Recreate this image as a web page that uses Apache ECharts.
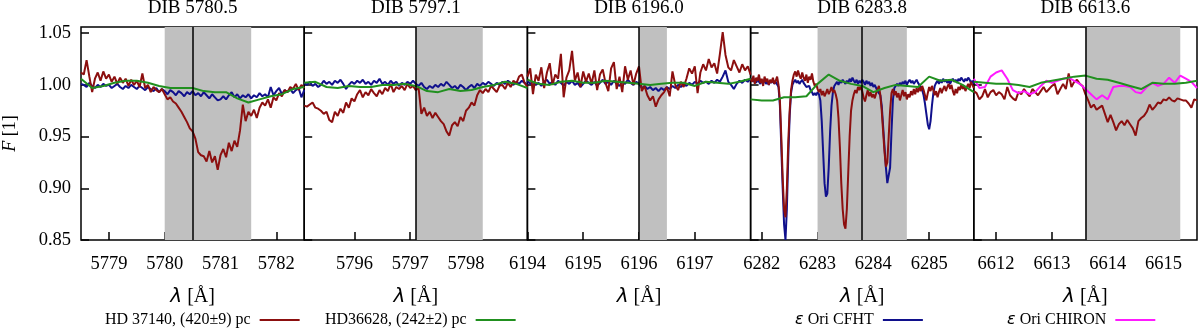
<!DOCTYPE html>
<html>
<head>
<meta charset="utf-8">
<script src="https://cdn.jsdelivr.net/npm/echarts@6.0.0/dist/echarts.min.js"></script>
<style>
html,body{margin:0;padding:0;background:#fff;}
#chart{width:1200px;height:329px;}
</style>
</head>
<body>
<div id="chart"></div>
<script>
// ---------- panel definitions ----------
const panelTitles = ['DIB 5780.5', 'DIB 5797.1', 'DIB 6196.0', 'DIB 6283.8', 'DIB 6613.6'];
const dibCenters = [5780.5, 5797.1, 6196.0, 6283.8, 6613.6];
const xTickLabels = [
  [5779, 5780, 5781, 5782],
  [5796, 5797, 5798],
  [6194, 6195, 6196, 6197],
  [6282, 6283, 6284, 6285],
  [6612, 6613, 6614, 6615]
];
const shadeBands = [
  [5780.0, 5781.55],
  [5797.1, 5798.3],
  [6196.0, 6196.5],
  [6283.0, 6284.6],
  [6613.6, 6615.3]
];
const yTickLabels = [0.85, 0.90, 0.95, 1.00, 1.05];
const seriesNames = ['HD 37140, (420±9) pc', 'HD36628, (242±2) pc', 'ε Ori CFHT', 'ε Ori CHIRON'];

// ---------- HD 37140 (dark red) ----------
const red5780 = [
1.012,1.010,1.024,1.008,0.993,1.006,1.012,1.004,1.013,1.006,
1.010,1.003,1.008,1.001,1.007,1.002,1.006,0.999,1.005,1.000,
1.004,0.998,1.011,0.997,1.000,0.993,0.998,0.995,0.993,0.996,
0.991,0.986,0.988,0.984,0.982,0.978,0.974,0.969,0.964,0.958,
0.955,0.948,0.935,0.932,0.931,0.926,0.936,0.925,0.931,0.918,
0.932,0.938,0.930,0.944,0.936,0.946,0.940,0.956,0.981,0.965,
0.974,0.970,0.976,0.968,0.978,0.983,0.980,0.986,0.978,0.988,
0.985,0.992,0.989,0.995,0.993,0.998,0.996,1.001,0.995,1.000,
0.997];
const red5797 = [
0.980,0.979,0.981,0.983,0.978,0.977,0.975,0.972,0.974,0.966,
0.964,0.974,0.970,0.977,0.973,0.983,0.978,0.987,0.984,0.991,
0.995,0.988,0.993,0.990,0.996,0.992,0.989,0.995,0.991,0.997,
0.994,1.001,0.993,0.998,0.996,0.999,0.995,1.001,0.997,0.999,
0.995,0.997,0.972,0.978,0.970,0.974,0.968,0.973,0.969,0.965,
0.962,0.955,0.951,0.961,0.964,0.960,0.969,0.965,0.975,0.978,
0.983,0.980,0.990,0.995,0.992,0.996,0.993,0.999,0.996,0.993,
0.999,1.000,0.996,1.002,0.998,1.004,1.001,1.008,1.010,1.002,
0.998];
const red6196 = [
1.008,1.016,0.991,1.010,1.004,1.017,0.997,1.012,1.021,1.000,
1.010,1.006,1.030,0.988,1.007,1.014,1.033,1.004,1.012,0.998,
1.013,1.003,1.011,1.001,1.014,0.995,1.010,1.015,1.002,0.994,
1.016,1.022,0.996,1.008,0.993,1.018,1.005,1.014,1.000,1.011,
1.018,0.994,0.999,0.990,0.985,0.989,0.979,0.986,0.990,0.993,
0.998,0.989,1.013,1.000,0.995,1.003,0.998,1.006,1.016,1.011,
1.018,0.992,1.012,1.020,1.014,1.025,1.017,1.021,1.011,1.030,
1.051,1.029,1.017,1.014,1.024,1.018,1.012,1.020,1.014,1.018,
1.010];
const red6284 = [
1.006,1.003,1.009,1.001,1.007,1.004,1.010,1.002,1.006,0.999,
1.008,1.003,1.006,1.000,1.005,1.002,1.007,1.001,1.004,1.008,
1.000,0.985,0.950,0.910,0.880,0.872,0.900,0.945,0.975,0.995,
1.004,1.010,1.013,1.008,1.014,1.009,1.006,1.012,1.007,1.004,
1.010,1.002,1.008,1.005,1.011,1.003,0.999,1.001,0.996,0.993,
0.996,0.990,0.994,0.989,0.992,0.996,0.991,0.994,0.998,0.993,
0.995,0.991,0.985,0.968,0.940,0.905,0.880,0.865,0.861,0.880,
0.915,0.950,0.975,0.985,0.991,0.995,0.992,0.998,0.995,0.999,
0.994,0.988,0.984,0.990,0.995,0.989,0.993,0.988,0.991,0.987,
0.992,0.996,0.999,0.990,0.975,0.955,0.935,0.921,0.925,0.950,
0.975,0.992,0.996,0.990,0.994,0.988,0.992,0.985,0.990,0.995,
0.989,0.993,0.986,0.991,0.988,0.994,0.990,0.996,0.991,0.997,
0.993,0.998,0.994,0.999,0.995,0.990,0.985,0.992,0.998,0.994,
0.999,0.995,0.990,0.994,0.988,0.993,0.997,0.992,0.996,0.999,
0.994,0.998,1.001,0.996,1.000,0.994,0.990,0.996,0.992,0.998,
0.995,1.000,0.996,0.999,0.994,0.998,1.001,0.997,1.003,1.000,
0.997];
const red6614 = [
0.994,0.992,0.986,0.989,0.996,0.988,0.993,0.995,0.990,0.993,
0.991,0.986,0.998,0.990,0.987,0.985,0.993,0.991,0.996,0.992,
0.989,0.996,0.993,0.990,0.994,0.998,0.993,0.996,0.999,1.001,
0.991,0.996,1.001,0.996,1.011,0.998,1.003,1.005,1.001,0.999,
0.991,0.985,0.978,0.981,0.976,0.978,0.980,0.972,0.964,0.971,
0.964,0.956,0.962,0.965,0.961,0.966,0.962,0.958,0.951,0.965,
0.968,0.970,0.974,0.981,0.976,0.979,0.983,0.982,0.986,0.985,
0.988,0.985,0.984,0.987,0.986,0.985,0.985,0.982,0.978,0.986,
0.985];
const redStep = [0.05, 0.05, 0.05, 0.025, 0.05];

// ---------- HD36628 (green) ----------
const green5780 = [1.006,0.997,0.999,1.002,1.004,1.004,1.002,0.999,0.997,0.997,0.997,0.994,0.993,0.993,0.987,0.983,0.986,0.989,0.991,0.996,0.998];
const green5797 = [1.002,1.003,0.998,0.997,0.999,0.998,0.998,1.000,1.000,1.001,0.999,0.994,0.993,0.996,0.994,0.995,0.998,1.000,1.003,1.001,0.997];
const green6196 = [1.005,1.001,1.000,1.003,1.004,1.002,1.002,1.004,1.003,1.002,1.001,1.000,1.001,1.002,1.002,0.999,1.003,1.002,1.001,1.003,1.006];
const green6284 = [0.986,0.985,0.985,0.988,0.988,0.989,1.001,1.010,1.004,1.001,0.999,0.993,0.997,1.000,0.999,0.998,1.008,1.004,1.005,1.000,0.993];
const green6614 = [1.003,1.002,1.001,1.001,1.000,0.998,1.002,1.004,1.006,1.008,1.009,1.006,1.005,1.002,0.999,0.996,1.002,1.001,1.001,1.002,1.004];
const greenStep = 0.2;

// ---------- eps Ori CFHT (dark blue) ----------
const blue5780 = [
1.001,1.000,0.998,1.002,0.999,0.997,1.000,0.998,1.001,0.999,
1.000,0.997,0.999,1.001,0.998,0.996,0.999,0.997,1.000,0.998,
0.996,0.999,0.997,0.995,0.998,0.996,0.994,0.997,0.993,0.996,
0.994,0.991,0.995,0.993,0.990,0.994,0.992,0.989,0.993,0.991,
0.994,0.990,0.992,0.989,0.993,0.990,0.987,0.991,0.988,0.985,
0.986,0.989,0.986,0.990,0.993,0.988,0.991,0.987,0.990,0.988,
0.991,0.987,0.990,0.988,0.992,0.989,0.991,0.988,0.998,0.990,
0.994,0.997,0.991,0.995,0.993,0.996,0.992,0.995,0.997,0.988,
0.995];
const blue5797 = [
1.002,1.000,1.003,0.999,1.001,0.998,1.000,1.004,1.001,1.003,
1.000,1.004,1.002,1.005,1.001,0.996,1.000,1.003,1.001,1.004,
1.002,1.005,1.001,1.003,1.000,1.004,1.002,1.006,1.001,1.003,
1.000,1.004,1.001,1.003,0.999,1.002,1.000,1.003,1.001,1.004,
1.001,0.999,1.002,0.998,0.996,0.999,0.997,1.000,0.998,1.001,
0.999,1.003,1.000,0.997,0.999,0.996,1.000,0.998,0.995,0.998,
1.000,0.997,1.001,0.999,1.002,1.000,1.003,1.001,0.999,1.002,
1.000,1.003,1.001,1.004,1.002,1.000,1.003,1.001,1.004,1.002,
1.000];
const blue6196 = [
1.004,1.001,1.003,1.000,1.002,0.999,1.003,1.005,1.001,1.003,
1.000,1.004,1.002,0.999,1.003,1.001,1.004,1.000,1.002,0.998,
1.001,1.004,1.002,1.000,1.003,0.999,1.002,1.005,1.001,1.003,
1.000,1.004,1.001,0.999,1.003,1.001,1.005,1.002,1.000,1.003,
1.001,0.997,0.999,0.996,0.998,0.995,0.997,0.994,0.997,0.995,
0.998,0.996,0.999,0.997,1.000,0.998,1.001,0.999,1.002,1.000,
1.003,1.001,1.004,1.002,1.003,1.001,1.004,1.002,1.005,1.003,
1.008,1.014,1.003,1.000,0.996,1.001,1.004,1.002,1.005,1.003,
1.006];
const blue6284 = [
1.004,1.006,1.003,1.005,1.002,1.006,1.003,1.001,1.004,1.002,
1.005,1.001,1.003,1.000,1.004,1.002,1.005,1.001,1.003,1.002,
0.998,0.980,0.940,0.900,0.865,0.850,0.880,0.930,0.970,0.992,
1.000,1.003,1.005,1.002,1.004,1.001,1.003,1.005,1.002,1.000,
0.998,0.997,0.999,0.995,0.993,0.990,0.992,0.990,0.993,0.991,
0.985,0.965,0.935,0.905,0.892,0.895,0.920,0.955,0.980,0.993,
0.999,1.001,1.003,1.000,1.004,1.002,1.005,1.003,1.001,1.004,
1.002,1.006,1.003,1.007,1.004,1.002,1.005,1.001,1.004,1.002,
1.005,1.003,1.000,1.004,1.001,1.003,0.999,1.002,0.998,1.000,
0.997,0.994,0.995,0.990,0.980,0.960,0.940,0.920,0.905,0.904,
0.920,0.955,0.985,0.997,0.999,1.001,0.999,1.002,1.000,1.003,
1.001,1.004,1.000,1.003,1.005,1.002,1.004,1.001,1.003,1.005,
1.002,1.000,0.998,0.995,0.990,0.982,0.972,0.962,0.957,0.965,
0.980,0.992,0.999,1.002,1.004,1.001,1.005,1.002,1.006,1.003,
1.005,1.002,1.004,1.001,1.004,1.006,1.003,1.005,1.002,1.006,
1.004,1.007,1.005,1.003,1.006,1.004,1.007,1.005,1.002,1.004,
1.001];
const blueStep = [0.05, 0.05, 0.05, 0.025];

// ---------- eps Ori CHIRON (magenta) ----------
const magenta6614 = [
1.006,0.997,0.998,1.008,1.012,1.014,1.006,0.995,0.992,0.994,
0.991,0.993,0.999,1.004,1.002,1.004,1.006,1.007,1.004,1.001,
0.996,0.991,0.986,0.990,0.986,0.998,0.999,0.999,0.998,0.993,
0.992,0.998,1.002,0.999,1.001,1.007,1.002,1.009,1.006,1.003,
0.997];
const magentaStep = 0.1;

// ---------- build ----------
const redData = [red5780, red5797, red6196, red6284, red6614];
const greenData = [green5780, green5797, green6196, green6284, green6614];
const blueData = [blue5780, blue5797, blue6196, blue6284];

const colors = ['#8c0f0f', '#21901f', '#10108c', '#ff1aff'];
const FONT = 'Liberation Serif';
const L0 = 81, PW = 1116 / 5, TOP = 27, H = 213;
const LW = 2;

function toPairs(vals, start, step) {
  return vals.map((v, i) => [Math.round((start + i * step) * 10000) / 10000, v]);
}

const grid = [], xAxis = [], yAxis = [], series = [], title = [];
dibCenters.forEach((c, p) => {
  grid.push({left: L0 + p * PW, top: TOP, width: PW, height: H, show: true,
    borderColor: '#000', borderWidth: 1.5, backgroundColor: 'transparent', containLabel: false});
  xAxis.push({
    gridIndex: p, type: 'value', min: c - 2, max: c + 2,
    axisLine: {show: false}, splitLine: {show: false},
    axisTick: {show: true, inside: true, length: 8, customValues: xTickLabels[p], lineStyle: {color: '#000', width: 1.5}},
    axisLabel: {show: true, customValues: xTickLabels[p], margin: 15, color: '#000', fontFamily: FONT, fontSize: 18.5,
      formatter: v => String(Math.round(v))},
    name: '{l|λ} [Å]', nameLocation: 'middle', nameGap: 47,
    nameTextStyle: {color: '#000', fontFamily: FONT, fontSize: 20,
      rich: {l: {fontFamily: 'DejaVu Sans', fontStyle: 'italic', fontSize: 20, color: '#000'}}}
  });
  yAxis.push({
    gridIndex: p, type: 'value', min: 0.85, max: 1.056,
    axisLine: {show: false}, splitLine: {show: false},
    axisTick: {show: true, inside: true, length: 8, customValues: yTickLabels, lineStyle: {color: '#000', width: 1.5}},
    axisLabel: {show: p === 0, customValues: yTickLabels, margin: 10, color: '#000', fontFamily: FONT, fontSize: 18.5,
      formatter: v => v.toFixed(2)},
    name: p === 0 ? '{i|F} [1]' : '', nameLocation: 'middle', nameGap: 62,
    nameTextStyle: {color: '#000', fontFamily: FONT, fontSize: 18,
      rich: {i: {fontFamily: FONT, fontStyle: 'italic', fontSize: 18, color: '#000'}}}
  });
  title.push({text: panelTitles[p], left: L0 + p * PW + PW / 2, top: -1, padding: 0, textAlign: 'center',
    textStyle: {fontFamily: FONT, fontSize: 19, fontWeight: 'normal', color: '#000'}});

  // shaded DIB band + vertical center line
  series.push({
    type: 'line', xAxisIndex: p, yAxisIndex: p, data: [], silent: true, z: 1,
    markArea: {silent: true, itemStyle: {color: '#c0c0c0', opacity: 1}, label: {show: false},
      data: [[{xAxis: shadeBands[p][0]}, {xAxis: shadeBands[p][1]}]]},
    markLine: {silent: true, symbol: ['none', 'none'], label: {show: false}, animation: false,
      lineStyle: {color: '#000', width: 1.5, type: 'solid'}, data: [{xAxis: c}]}
  });
  const start = c - 2;
  const common = {type: 'line', xAxisIndex: p, yAxisIndex: p, symbol: 'none', showSymbol: false,
    sampling: null, clip: true, silent: true};
  if (p < 4) {
    series.push(Object.assign({}, common, {name: seriesNames[2], z: 2,
      data: toPairs(blueData[p], start, blueStep[p]),
      lineStyle: {color: colors[2], width: LW}, itemStyle: {color: colors[2]}}));
  }
  series.push(Object.assign({}, common, {name: seriesNames[0], z: 3,
    data: toPairs(redData[p], start, redStep[p]),
    lineStyle: {color: colors[0], width: LW}, itemStyle: {color: colors[0]}}));
  if (p === 4) {
    series.push(Object.assign({}, common, {name: seriesNames[3], z: 3,
      data: toPairs(magenta6614, start, magentaStep),
      lineStyle: {color: colors[3], width: LW}, itemStyle: {color: colors[3]}}));
  }
  series.push(Object.assign({}, common, {name: seriesNames[1], z: 4,
    data: toPairs(greenData[p], start, greenStep),
    lineStyle: {color: colors[1], width: LW}, itemStyle: {color: colors[1]}}));
});

const legendLefts = [105, 325, 795, 1007];
const legend = seriesNames.map((n, i) => ({
  data: [n], left: legendLefts[i], top: 312, padding: 0, align: 'right',
  icon: 'rect', itemWidth: 40, itemHeight: 2, itemGap: 0, selectedMode: false,
  formatter: name => name.charAt(0) === 'ε' ? '{e|ε}' + name.slice(1) + ' ' : name + ' ',
  textStyle: {fontFamily: FONT, fontSize: 16, color: '#000',
    rich: {e: {fontFamily: 'DejaVu Sans', fontStyle: 'italic', fontSize: 16, color: '#000'}}}
}));

const chart = echarts.init(document.getElementById('chart'), null, {renderer: 'canvas'});
chart.setOption({
  animation: false,
  backgroundColor: '#fff',
  title, grid, xAxis, yAxis, series, legend
});
</script>
</body>
</html>
